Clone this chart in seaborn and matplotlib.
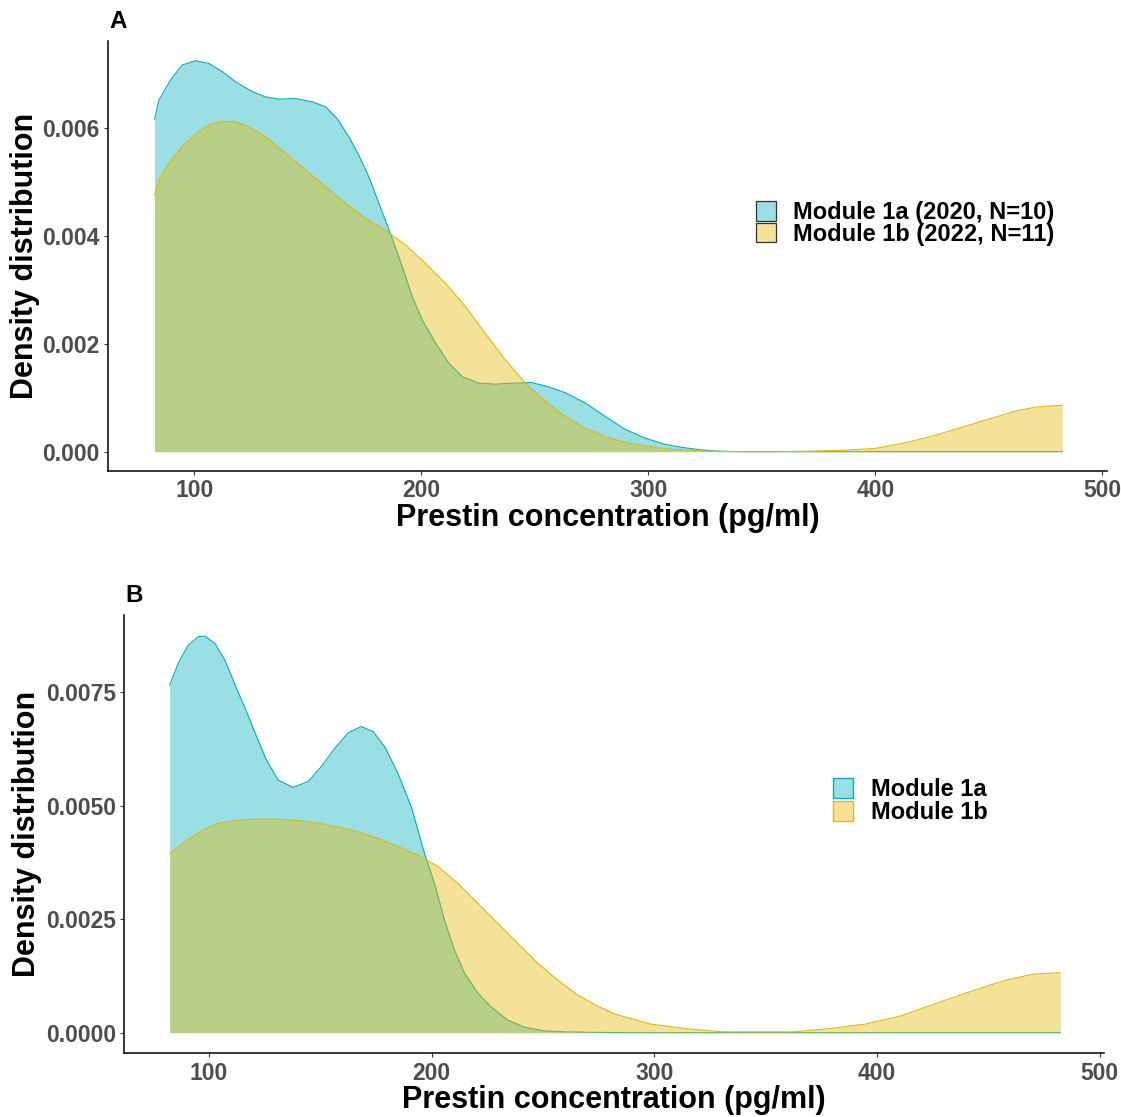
import numpy as np
import pandas as pd
import matplotlib
matplotlib.use("Agg")
import matplotlib.pyplot as plt
import matplotlib.colors as mcolors
import seaborn as sns
from matplotlib.patches import Patch

# ---------------- data ----------------
# Panel A: density of prestin concentration
a_1a_x = [82.5, 84.4, 89.5, 94.6, 100.5, 106.4, 112.3, 118.2, 125.5, 131.4, 137.2, 144.6,
          151.9, 157.8, 162.9, 168.1, 172.5, 176.9, 181.3, 186.4, 191.6, 196.0, 200.4,
          206.3, 212.1, 218.0, 225.3, 232.7, 240.0, 248.8, 256.2, 263.5, 272.3, 281.1,
          289.9, 298.7, 307.0, 314.8, 322.0, 330.0, 340.0, 370.0, 400.0, 440.0, 482.3]
a_1a_y = [0.006155, 0.00651, 0.00688, 0.00716, 0.00724, 0.00719, 0.00704, 0.00685, 0.00667,
          0.00657, 0.00653, 0.00654, 0.00648, 0.00639, 0.00617, 0.00583, 0.00549, 0.00509,
          0.00460, 0.00404, 0.00343, 0.00287, 0.00244, 0.00201, 0.00164, 0.00139, 0.00127,
          0.00125, 0.00127, 0.00128, 0.00120, 0.00109, 0.00090, 0.00065, 0.00041, 0.00025,
          0.00014, 0.00008, 0.00004, 0.00001, 0.0, 0.0, 0.0, 0.0, 0.0]

a_1b_x = [82.5, 84.4, 88.8, 94.6, 100.5, 106.4, 112.3, 118.2, 124.0, 131.4, 140.2, 149.0,
          157.8, 166.6, 175.4, 184.2, 193.0, 201.8, 210.6, 219.4, 228.2, 237.0, 245.8,
          254.7, 263.5, 272.3, 281.1, 289.9, 298.7, 308.5, 324.3, 340.0, 355.0, 371.6,
          387.4, 400.0, 412.6, 425.2, 437.9, 450.5, 461.5, 471.0, 482.3]
a_1b_y = [0.00475, 0.00503, 0.00534, 0.00565, 0.00588, 0.00605, 0.00612, 0.00611, 0.00602,
          0.00583, 0.00553, 0.00522, 0.00491, 0.00460, 0.00432, 0.00410, 0.00383, 0.00349,
          0.00312, 0.00269, 0.00219, 0.00170, 0.00127, 0.00093, 0.00065, 0.00043, 0.00028,
          0.00017, 0.00011, 0.00005, 0.00001, 0.0, 0.0, 0.00001, 0.00003, 0.00006, 0.00016,
          0.00029, 0.00045, 0.00061, 0.00075, 0.00083, 0.00086]

# Panel B
b_1a_x = [82.4, 86.2, 90.7, 95.2, 98.2, 102.7, 107.2, 112.4, 116.9, 121.4, 125.9, 131.1,
          137.8, 144.6, 150.5, 156.5, 162.5, 168.4, 173.7, 178.9, 184.9, 190.9, 196.8,
          201.3, 205.8, 210.3, 214.8, 220.8, 226.7, 234.2, 241.7, 250.7, 259.6, 270.0,
          290.0, 320.0, 400.0, 482.4]
b_1a_y = [0.00765, 0.00813, 0.00853, 0.00872, 0.00873, 0.00857, 0.00820, 0.00758, 0.00707,
          0.00652, 0.00600, 0.00556, 0.00540, 0.00553, 0.00586, 0.00626, 0.00660, 0.00674,
          0.00663, 0.00630, 0.00571, 0.00497, 0.00395, 0.00329, 0.00248, 0.00182, 0.00131,
          0.00087, 0.00057, 0.00028, 0.00012, 0.00004, 0.00002, 0.00001, 0.0, 0.0, 0.0, 0.0]

b_1b_x = [82.4, 89.3, 96.7, 104.2, 113.2, 122.1, 131.1, 140.1, 149.0, 158.0, 167.0, 175.9,
          184.9, 193.9, 202.8, 211.8, 220.8, 229.7, 238.7, 247.7, 256.6, 265.6, 274.0,
          282.3, 298.4, 314.4, 330.5, 346.5, 362.6, 378.7, 394.7, 410.8, 426.8, 442.9,
          457.3, 470.2, 482.4]
b_1b_y = [0.00395, 0.00420, 0.00445, 0.00461, 0.00468, 0.00470, 0.00470, 0.00467, 0.00461,
          0.00453, 0.00442, 0.00428, 0.00410, 0.00391, 0.00366, 0.00329, 0.00285, 0.00241,
          0.00197, 0.00153, 0.00116, 0.00083, 0.00060, 0.00041, 0.00019, 0.00009, 0.00002,
          0.00002, 0.00002, 0.00009, 0.00019, 0.00037, 0.00065, 0.00092, 0.00115, 0.00129,
          0.00132]

labels_A = ["Module 1a (2020, N=10)", "Module 1b (2022, N=11)"]
labels_B = ["Module 1a", "Module 1b"]
x_ticks = [100, 200, 300, 400, 500]
y_ticks_A = [0.0, 0.002, 0.004, 0.006]
y_ticklabels_A = ["0.000", "0.002", "0.004", "0.006"]
y_ticks_B = [0.0, 0.0025, 0.005, 0.0075]
y_ticklabels_B = ["0.0000", "0.0025", "0.0050", "0.0075"]
x_title = "Prestin concentration (pg/ml)"
y_title = "Density distribution"

CYAN = "#00AFBB"
YEL = "#E7B800"
ALPHA = 0.4

# ---------------- style ----------------
sns.set_theme(style="ticks")
plt.rcParams["font.family"] = ["Liberation Sans", "DejaVu Sans"]
plt.rcParams["font.weight"] = "bold"
plt.rcParams["text.color"] = "black"

W, H = 1121, 1117
fig = plt.figure(figsize=(W / 100, H / 100), dpi=100)
fig.patch.set_facecolor("white")

axA = fig.add_axes([108 / W, 1 - 470.7 / H, 999 / W, 430 / H])
axB = fig.add_axes([124.3 / W, 1 - 1053.3 / H, 979.7 / W, 438.3 / H])


def draw_panel(ax, x1, y1, x2, y2, ylim, yt, ytl, ylab_x, xlab_y):
    df1 = pd.DataFrame({"x": x1, "y": y1})
    df2 = pd.DataFrame({"x": x2, "y": y2})
    ax.fill_between(df1["x"], 0, df1["y"], color=CYAN, alpha=ALPHA, lw=0, zorder=1)
    sns.lineplot(data=df1, x="x", y="y", ax=ax, color=CYAN, lw=0.8,
                 estimator=None, sort=False, zorder=2)
    ax.fill_between(df2["x"], 0, df2["y"], color=YEL, alpha=ALPHA, lw=0, zorder=3)
    sns.lineplot(data=df2, x="x", y="y", ax=ax, color=YEL, lw=0.8,
                 estimator=None, sort=False, zorder=4)
    ax.set_xlim(62, 502)
    ax.set_ylim(*ylim)
    ax.set_xticks(x_ticks)
    ax.set_xticklabels([str(v) for v in x_ticks])
    ax.set_yticks(yt)
    ax.set_yticklabels(ytl)
    for s in ["top", "right"]:
        ax.spines[s].set_visible(False)
    for s in ["left", "bottom"]:
        ax.spines[s].set_color("black")
        ax.spines[s].set_linewidth(1.1)
    ax.tick_params(axis="both", length=3, width=0.8, color="#333333",
                   labelsize=16.5, labelcolor="#4D4D4D", pad=3)
    for lab in ax.get_xticklabels() + ax.get_yticklabels():
        lab.set_fontweight("bold")
    ax.set_xlabel(x_title, fontsize=22, fontweight="bold", color="black", va="center")
    ax.set_ylabel(y_title, fontsize=22, fontweight="bold", color="black", va="center")
    ax.yaxis.set_label_coords(ylab_x, 0.5)
    ax.xaxis.set_label_coords(0.5, xlab_y)
    ax.set_facecolor("white")


draw_panel(axA, a_1a_x, a_1a_y, a_1b_x, a_1b_y, (-0.000352, 0.007611),
           y_ticks_A, y_ticklabels_A, (25 - 108) / 999, -0.110)
draw_panel(axB, b_1a_x, b_1a_y, b_1b_x, b_1b_y, (-0.000453, 0.009195),
           y_ticks_B, y_ticklabels_B, (27 - 124.3) / 979.7, -0.1065)

# legends
hA = [Patch(facecolor=mcolors.to_rgba(CYAN, ALPHA), edgecolor="#333333", lw=0.9),
      Patch(facecolor=mcolors.to_rgba(YEL, ALPHA), edgecolor="#333333", lw=0.9)]
hB = [Patch(facecolor=mcolors.to_rgba(CYAN, ALPHA), edgecolor=CYAN, lw=1.0),
      Patch(facecolor=mcolors.to_rgba(YEL, ALPHA), edgecolor=YEL, lw=1.0)]

common = dict(loc="upper left", frameon=False, borderpad=0, borderaxespad=0,
              handlelength=0.85, handleheight=0.9, labelcolor="black",
              handletextpad=0.75, prop={"weight": "bold", "size": 17})
legA = fig.legend(hA, labels_A, bbox_to_anchor=(755.7 / W, 1 - 201 / H),
                  labelspacing=-0.06, **common)
legB = fig.legend(hB, labels_B, bbox_to_anchor=(833.3 / W, 1 - 778 / H),
                  labelspacing=0.0, **common)

fig.text(117.7 / W, 1 - 21.7 / H, "A", ha="center", va="center", fontsize=17.5,
         fontweight="bold", color="black")
fig.text(134.3 / W, 1 - 595 / H, "B", ha="center", va="center", fontsize=17.5,
         fontweight="bold", color="black")

fig.savefig("out.png", dpi=100, facecolor="white")
